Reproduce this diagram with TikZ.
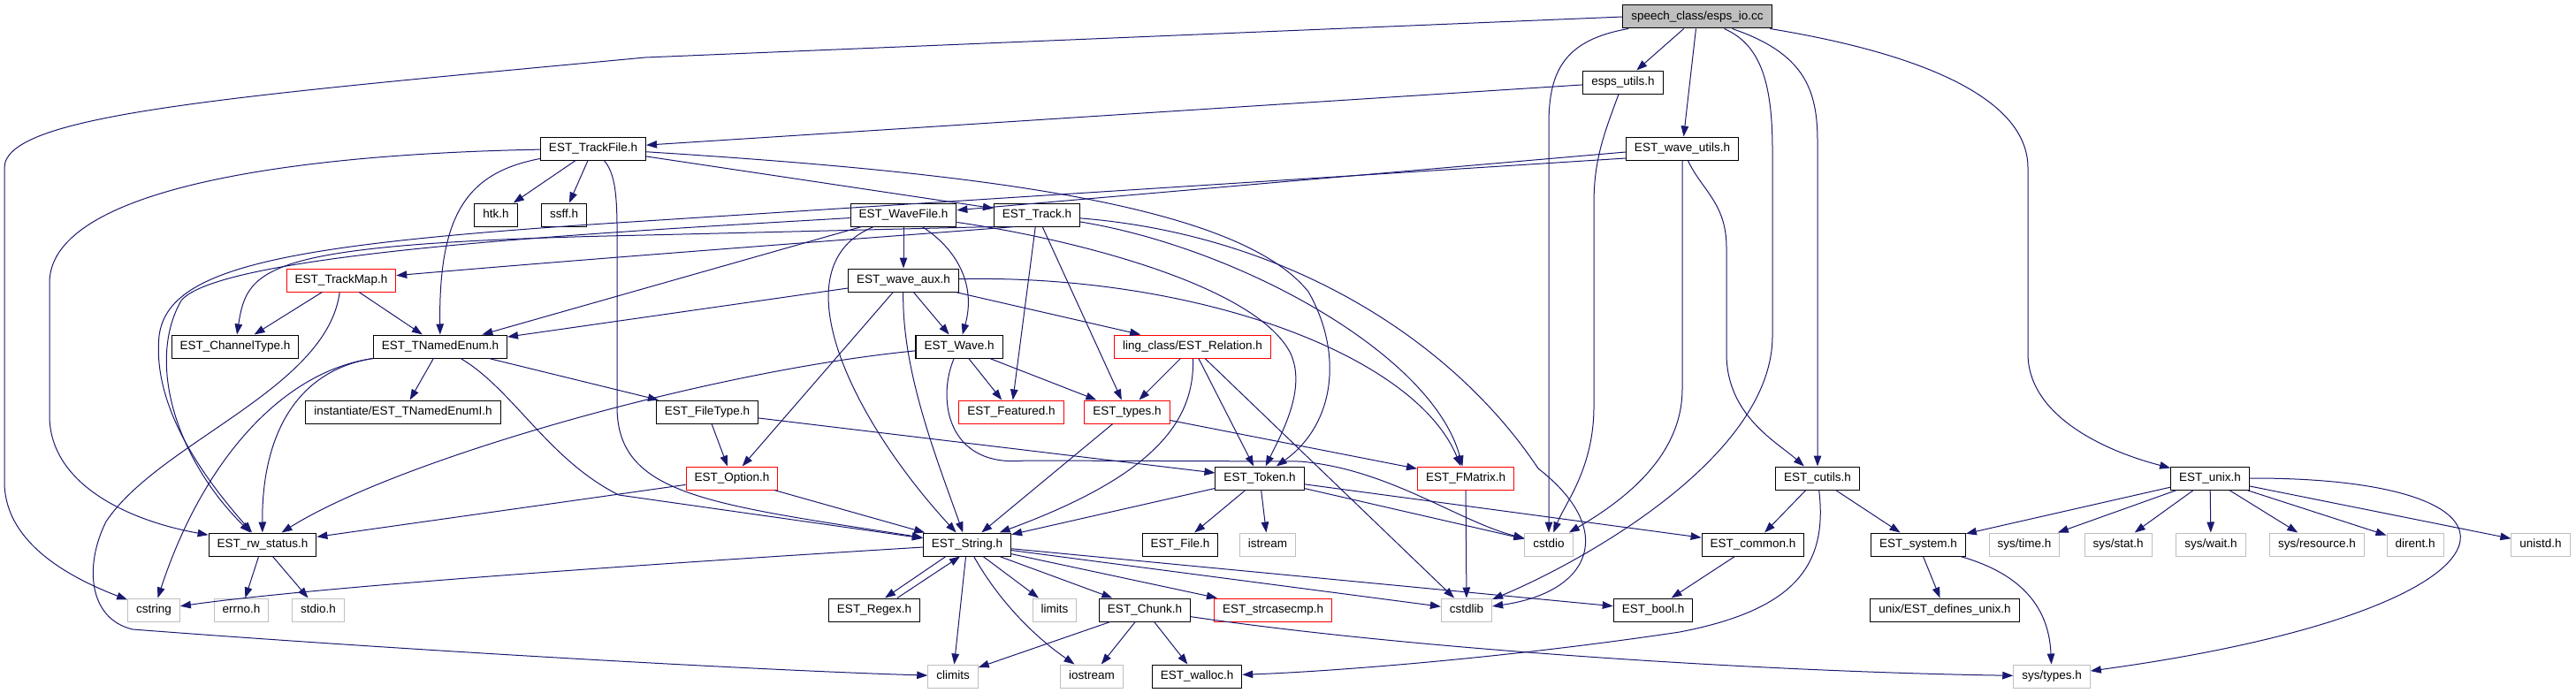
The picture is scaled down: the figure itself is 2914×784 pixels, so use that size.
\documentclass[tikz,border=0pt]{standalone}
\usepackage{fontspec}
\setmainfont{Liberation Sans}
\usepackage{xcolor}
\definecolor{edgeNavy}{HTML}{191970}
\definecolor{truncRed}{HTML}{FF0000}
\definecolor{sysGray}{HTML}{BFBFBF}
\usepackage{tikz}
\usetikzlibrary{arrows.meta}

\begin{document}
\begin{tikzpicture}[x=1pt, y=-1pt,
  hdr/.style={draw=black, line width=1pt, fill=white, inner xsep=9.5pt, inner ysep=0pt,
    minimum height=26pt, text height=10pt, text depth=3pt, font=\fontsize{13.5pt}{16pt}\selectfont},
  hdrred/.style={hdr, draw=truncRed},
  hdrsys/.style={hdr, draw=sysGray},
  rootfile/.style={hdr, fill=sysGray},
  dep/.style={draw=edgeNavy, line width=1pt, -{Triangle[length=12pt, width=8.5pt]}}]
  \useasboundingbox (0,0) rectangle (2914,784);
  % Top of the graph
  \node[rootfile] (espsio) at (1920,19) {speech\_class/esps\_io.cc};
  \node[hdr] (espsutils) at (1836,93) {esps\_utils.h};
  \node[hdr] (trackfile) at (671,168) {EST\_TrackFile.h};
  \node[hdr] (waveutils) at (1903,168) {EST\_wave\_utils.h};
  % Fourth and fifth rank
  \node[hdr] (htk) at (561,243) {htk.h};
  \node[hdr] (ssff) at (638,243) {ssff.h};
  \node[hdr] (wavefile) at (1022,243) {EST\_WaveFile.h};
  \node[hdr] (track) at (1173,243) {EST\_Track.h};
  \node[hdrred] (trackmap) at (386,317) {EST\_TrackMap.h};
  \node[hdr] (waveaux) at (1022,317) {EST\_wave\_aux.h};
  % Sixth and seventh rank
  \node[hdr] (chtype) at (266,392) {EST\_ChannelType.h};
  \node[hdr] (tnamed) at (498,392) {EST\_TNamedEnum.h};
  \node[hdr] (wave) at (1085,392) {EST\_Wave.h};
  \node[hdrred] (relation) at (1349,392) {ling\_class/EST\_Relation.h};
  \node[hdr] (tnamedi) at (456,466) {instantiate/EST\_TNamedEnumI.h};
  \node[hdr] (filetype) at (800,466) {EST\_FileType.h};
  \node[hdrred] (featured) at (1144,466) {EST\_Featured.h};
  \node[hdrred] (types) at (1275,466) {EST\_types.h};
  % Eighth rank
  \node[hdrred] (option) at (828,541) {EST\_Option.h};
  \node[hdr] (token) at (1425,541) {EST\_Token.h};
  \node[hdrred] (fmatrix) at (1658,541) {EST\_FMatrix.h};
  \node[hdr] (cutils) at (2056,541) {EST\_cutils.h};
  \node[hdr] (unix) at (2500,541) {EST\_unix.h};
  % Ninth rank
  \node[hdr] (rwstatus) at (297,616) {EST\_rw\_status.h};
  \node[hdr] (string) at (1094,616) {EST\_String.h};
  \node[hdr] (file) at (1335,616) {EST\_File.h};
  \node[hdrsys] (istream) at (1434,616) {istream};
  \node[hdrsys] (cstdio) at (1752,616) {cstdio};
  \node[hdr] (common) at (1983,616) {EST\_common.h};
  \node[hdr] (system) at (2170,616) {EST\_system.h};
  \node[hdrsys] (systime) at (2290,616) {sys/time.h};
  \node[hdrsys] (sysstat) at (2396,616) {sys/stat.h};
  \node[hdrsys] (syswait) at (2501,616) {sys/wait.h};
  \node[hdrsys] (sysres) at (2621,616) {sys/resource.h};
  \node[hdrsys] (dirent) at (2732,616) {dirent.h};
  \node[hdrsys] (unistd) at (2874,616) {unistd.h};
  % Bottom two ranks
  \node[hdrsys] (cstring) at (174,690) {cstring};
  \node[hdrsys] (errno) at (273,690) {errno.h};
  \node[hdrsys] (stdio) at (360,690) {stdio.h};
  \node[hdr] (regex) at (989,690) {EST\_Regex.h};
  \node[hdrsys] (limits) at (1193,690) {limits};
  \node[hdr] (chunk) at (1295,690) {EST\_Chunk.h};
  \node[hdrred] (strcase) at (1440,690) {EST\_strcasecmp.h};
  \node[hdrsys] (cstdlib) at (1659,690) {cstdlib};
  \node[hdr] (bool) at (1870,690) {EST\_bool.h};
  \node[hdr] (defunix) at (2200,690) {unix/EST\_defines\_unix.h};
  \node[hdrsys] (climits) at (1078,765) {climits};
  \node[hdrsys] (iostream) at (1235,765) {iostream};
  \node[hdr] (walloc) at (1354,765) {EST\_walloc.h};
  \node[hdrsys] (systypes) at (2321,765) {sys/types.h};

  % speech_class/esps_io.cc
  \draw[dep] (espsio.west) -- (730,65) .. controls (250,110) and (5,130) .. (5,190) -- (5,545) .. controls (5,610) and (70,650) .. (cstring);
  \draw[dep] (espsio) -- (espsutils);
  \draw[dep] (espsio) -- (waveutils);
  \draw[dep] (espsio) .. controls (1770,45) and (1752,80) .. (1752,140) -- (cstdio);
  \draw[dep] (espsio) .. controls (1990,50) and (2005,90) .. (2005,170) -- (2005,380) .. controls (2005,520) and (1780,640) .. (cstdlib);
  \draw[dep] (espsio) .. controls (2040,60) and (2056,100) .. (2056,160) -- (cutils);
  \draw[dep] (espsio) .. controls (2170,60) and (2294,110) .. (2294,190) -- (2294,400) .. controls (2294,470) and (2380,510) .. (unix);
  % esps_utils.h
  \draw[dep] (espsutils) -- (trackfile);
  \draw[dep] (espsutils) .. controls (1815,150) and (1803,180) .. (1803,230) -- (1803,460) .. controls (1803,530) and (1770,570) .. (cstdio);
  % EST_wave_utils.h
  \draw[dep] ([yshift=-4pt]waveutils.west) -- (wavefile);
  \draw[dep] ([yshift=-11pt]waveutils.west) -- (730,250) .. controls (330,275) and (190,300) .. (180,380) .. controls (172,460) and (230,540) .. (rwstatus);
  \draw[dep] (waveutils.south) -- (1903,440) .. controls (1903,520) and (1830,570) .. (cstdio);
  \draw[dep] (waveutils) .. controls (1925,215) and (1953,230) .. (1953,280) -- (1953,400) .. controls (1953,470) and (2010,500) .. (cutils);
  % EST_TrackFile.h
  \draw[dep] (trackfile) -- (htk);
  \draw[dep] (trackfile) -- (ssff);
  \draw[dep] (trackfile) -- (track);
  \draw[dep] (trackfile) .. controls (530,195) and (496,240) .. (tnamed);
  \draw[dep] (trackfile) .. controls (700,200) and (698,240) .. (698,300) -- (698,460) .. controls (698,560) and (800,570) .. (string);
  \draw[dep] (trackfile) .. controls (300,175) and (56,220) .. (56,320) -- (56,470) .. controls (56,550) and (150,590) .. (rwstatus);
  \draw[dep] (trackfile) .. controls (1100,195) and (1400,230) .. (1480,330) .. controls (1520,400) and (1510,480) .. (token);
  % EST_WaveFile.h
  \draw[dep] (wavefile) -- (waveaux);
  \draw[dep] (wavefile) .. controls (1080,280) and (1105,320) .. (wave);
  \draw[dep] (wavefile) -- (tnamed);
  \draw[dep] (wavefile) .. controls (880,300) and (960,470) .. (string);
  \draw[dep] (wavefile) .. controls (700,262) and (250,285) .. (205,340) .. controls (165,410) and (200,520) .. (rwstatus);
  \draw[dep] (wavefile) .. controls (1200,268) and (1420,320) .. (1460,400) .. controls (1478,440) and (1450,490) .. (token);
  % EST_Track.h
  \draw[dep] ([xshift=-25pt]track.south) .. controls (1000,268) and (700,290) .. (trackmap);
  \draw[dep] (track.south west) -- (730,266) .. controls (300,275) and (280,300) .. (chtype);
  \draw[dep] (track) -- (featured);
  \draw[dep] (track) -- (types);
  \draw[dep] (track) .. controls (1400,280) and (1620,400) .. (fmatrix);
  \draw[dep] (track) .. controls (1450,265) and (1640,380) .. (1740,530) .. controls (1830,600) and (1800,670) .. (cstdlib);
  % EST_TrackMap.h
  \draw[dep] (trackmap) -- (chtype);
  \draw[dep] (trackmap) -- (tnamed);
  \draw[dep] (trackmap) .. controls (370,440) and (180,500) .. (120,590) .. controls (95,640) and (100,700) .. (150,712) .. controls (450,735) and (850,758) .. (climits);
  % EST_wave_aux.h
  \draw[dep] (waveaux) -- (tnamed);
  \draw[dep] (waveaux) -- (wave);
  \draw[dep] (waveaux) -- (relation);
  \draw[dep] (waveaux) -- (option);
  \draw[dep] (waveaux) .. controls (1020,420) and (1060,520) .. (string);
  \draw[dep] (waveaux) .. controls (1350,310) and (1600,400) .. (fmatrix);
  % EST_TNamedEnum.h
  \draw[dep] (tnamed) -- (tnamedi);
  \draw[dep] (tnamed) -- (filetype);
  \draw[dep] (tnamed) .. controls (580,440) and (620,520) .. (700,560) -- (string);
  \draw[dep] (tnamed.south west) .. controls (330,420) and (296,500) .. (rwstatus);
  \draw[dep] (tnamed.south west) .. controls (320,420) and (230,520) .. (cstring);
  % EST_Wave.h
  \draw[dep] (wave) -- (featured);
  \draw[dep] (wave) -- (types);
  \draw[dep] (wave) .. controls (800,420) and (450,520) .. (rwstatus);
  \draw[dep] (wave) .. controls (1060,450) and (1070,530) .. (1160,521) -- (1470,522) .. controls (1570,530) and (1650,590) .. (cstdio);
  % ling_class/EST_Relation.h
  \draw[dep] (relation) -- (types);
  \draw[dep] (relation) -- (token);
  \draw[dep] (relation) .. controls (1352,480) and (1300,540) .. (string);
  \draw[dep] (relation) -- (cstdlib);
  % EST_FileType.h, EST_types.h, EST_Option.h
  \draw[dep] (filetype) -- (option);
  \draw[dep] (filetype) -- (token);
  \draw[dep] (types) -- (string);
  \draw[dep] (types) -- (fmatrix);
  \draw[dep] (option) -- (rwstatus);
  \draw[dep] (option) -- (string);
  % EST_Token.h
  \draw[dep] (token) -- (string);
  \draw[dep] (token) -- (file);
  \draw[dep] (token) -- (istream);
  \draw[dep] (token) -- (cstdio);
  \draw[dep] (token) -- (common);
  % EST_FMatrix.h, EST_cutils.h
  \draw[dep] (fmatrix) -- (cstdlib);
  \draw[dep] (cutils) -- (common);
  \draw[dep] (cutils) -- (system);
  \draw[dep] (cutils) .. controls (2068,640) and (2030,690) .. (1900,715) .. controls (1700,745) and (1500,760) .. (walloc);
  % EST_unix.h
  \draw[dep] (unix) -- (system);
  \draw[dep] (unix) -- (systime);
  \draw[dep] (unix) -- (sysstat);
  \draw[dep] (unix) -- (syswait);
  \draw[dep] (unix) -- (sysres);
  \draw[dep] (unix) -- (dirent);
  \draw[dep] (unix) -- (unistd);
  \draw[dep] (unix.east) .. controls (2900,540) and (2870,690) .. (systypes);
  % EST_system.h, EST_rw_status.h, EST_common.h
  \draw[dep] (system) -- (defunix);
  \draw[dep] (system) .. controls (2290,650) and (2318,690) .. (systypes);
  \draw[dep] (rwstatus) -- (errno);
  \draw[dep] (rwstatus) -- (stdio);
  \draw[dep] (common) -- (bool);
  % EST_String.h
  \draw[dep] (string) .. controls (700,640) and (350,665) .. (cstring);
  \draw[dep] ([xshift=-24pt]string.south) -- ([xshift=12pt]regex.north);
  \draw[dep] ([xshift=26pt]regex.north) -- ([xshift=-8pt]string.south);
  \draw[dep] (string) -- (climits);
  \draw[dep] (string) .. controls (1130,680) and (1170,720) .. (iostream);
  \draw[dep] (string) -- (limits);
  \draw[dep] (string) -- (chunk);
  \draw[dep] (string) -- (strcase);
  \draw[dep] (string) -- (cstdlib);
  \draw[dep] (string) -- (bool);
  % EST_Chunk.h
  \draw[dep] (chunk) -- (climits);
  \draw[dep] (chunk) -- (iostream);
  \draw[dep] (chunk) -- (walloc);
  \draw[dep] (chunk) .. controls (1600,735) and (2000,760) .. (systypes);
\end{tikzpicture}
\end{document}
